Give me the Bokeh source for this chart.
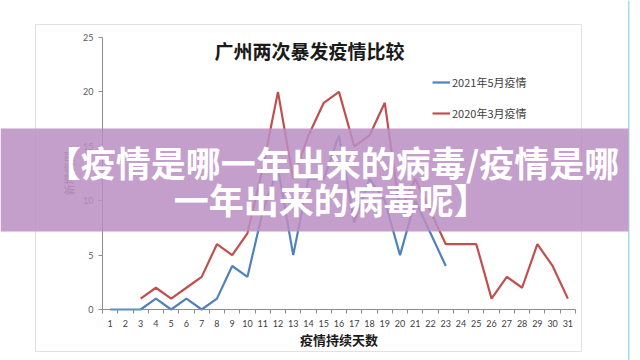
from bokeh.plotting import figure
from bokeh.models import FixedTicker, Label, BoxAnnotation, Legend, LegendItem, ColumnDataSource
from bokeh.embed import file_html
from bokeh.resources import INLINE

# ---- data ----
days = list(range(1, 32))
y_ticks = [0, 5, 10, 15, 20, 25]
may2021_days = list(range(1, 24))
may2021_cases = [0, 0, 0, 1, 0, 1, 0, 1, 4, 3, 9, 13, 5, 12, 12, 16, 8, 12, 10, 5, 10, 7, 4]
mar2020_days = list(range(3, 32))
mar2020_cases = [1, 2, 1, 2, 3, 6, 5, 7, 13, 20, 12, 16, 19, 20, 15, 16, 19, 9, 12, 9,
                 6, 6, 6, 1, 3, 2, 6, 4, 1]
series_names = ["2021年5月疫情", "2020年3月疫情"]
title_text = "广州两次暴发疫情比较"
x_title = "疫情持续天数"
y_title = "新增病例"
banner_lines = ["【疫情是哪一年出来的病毒/疫情是哪", "一年出来的病毒呢】"]

CJK = "Noto Sans CJK SC"
BLUE = "#4F81BD"
RED = "#C0504D"
W, H = 640, 360

# plot area of the chart inside the picture (pixels): x 102..575, y 37..309
px_per_day = (575 - 102) / 31.0
px_per_case = (309 - 37) / 25.0
x0 = 0.5 - 102 / px_per_day
x1 = 31.5 + (W - 575) / px_per_day
y1 = 25 + 37 / px_per_case
y0 = -(H - 309) / px_per_case

p = figure(width=W, height=H, x_range=(x0, x1), y_range=(y0, y1),
           output_backend="svg", toolbar_location=None,
           min_border=0, min_border_left=0, min_border_right=0,
           min_border_top=0, min_border_bottom=0)
p.outline_line_color = None
p.grid.visible = False
p.background_fill_color = "white"
p.border_fill_color = "white"

# x axis
xa = p.xaxis[0]
xa.fixed_location = 0
xa.bounds = (0.5, 31.5)
xa.ticker = FixedTicker(ticks=days, minor_ticks=[d + 0.5 for d in range(0, 32)])
xa.major_tick_line_color = None
xa.minor_tick_out = 4
xa.minor_tick_in = 0
xa.minor_tick_line_color = "#8c8c8c"
xa.axis_line_color = "#8c8c8c"
xa.major_label_text_font = "Lato"
xa.major_label_text_font_size = "9px"
xa.major_label_text_color = "#404040"
xa.major_label_standoff = 4
xa.axis_label = x_title
xa.axis_label_text_font = CJK
xa.axis_label_text_font_style = "bold"
xa.axis_label_text_font_size = "13px"
xa.axis_label_text_color = "#1a1a1a"
xa.axis_label_standoff = 0

# y axis
ya = p.yaxis[0]
ya.fixed_location = 0.5
ya.bounds = (0, 25)
ya.ticker = FixedTicker(ticks=y_ticks)
ya.major_tick_out = 4
ya.major_tick_in = 0
ya.minor_tick_line_color = None
ya.major_tick_line_color = "#8c8c8c"
ya.axis_line_color = "#8c8c8c"
ya.major_label_text_font = "Lato"
ya.major_label_text_font_size = "9px"
ya.major_label_text_color = "#595959"
ya.major_label_standoff = 5
ya.axis_label = y_title
ya.axis_label_text_font = CJK
ya.axis_label_text_font_style = "normal"
ya.axis_label_text_font_size = "11px"
ya.axis_label_text_color = "#595959"
ya.axis_label_standoff = 3

# outer chart border
p.add_layout(BoxAnnotation(left=35, right=581, top=24, bottom=351,
                           left_units="canvas", right_units="canvas",
                           top_units="canvas", bottom_units="canvas",
                           fill_alpha=0, line_color="#a0a0a0", line_width=1, level="underlay"))

src_a = ColumnDataSource(dict(x=may2021_days, y=may2021_cases))
src_b = ColumnDataSource(dict(x=mar2020_days, y=mar2020_cases))
ra = p.line("x", "y", source=src_a, line_color=BLUE, line_width=2.2)
rb = p.line("x", "y", source=src_b, line_color=RED, line_width=2.2)

legend = Legend(items=[LegendItem(label=series_names[0], renderers=[ra]),
                       LegendItem(label=series_names[1], renderers=[rb])],
                location=(432, 237), orientation="vertical",
                label_text_font=CJK, label_text_font_size="11px", label_text_color="#404040",
                glyph_width=18, glyph_height=20, label_height=20, spacing=11,
                label_standoff=2, padding=0, margin=0,
                border_line_color=None, background_fill_alpha=0)
p.add_layout(legend, "center")

# chart title (inside the plot area as in the original)
p.add_layout(Label(x=14.07, y=23.8, text=title_text, text_align="center", text_baseline="middle",
                   text_font=CJK, text_font_style="bold", text_font_size="19px", text_color="#1a1a1a"))

# right light-blue rule
p.add_layout(BoxAnnotation(left=627.5, right=629, top=0, bottom=H,
                           left_units="canvas", right_units="canvas",
                           top_units="canvas", bottom_units="canvas",
                           fill_color="#a9d9f2", fill_alpha=1, line_color=None))
# banner
p.add_layout(BoxAnnotation(left=0, right=628, top=128, bottom=231,
                           left_units="canvas", right_units="canvas",
                           top_units="canvas", bottom_units="canvas",
                           fill_color="#ba8fc3", fill_alpha=0.86, line_color=None))
p.add_layout(Label(x=15.57, y=13.6, text=banner_lines[0], text_align="center", text_baseline="middle",
                   text_font=CJK, text_font_style="bold", text_font_size="35px", text_color="white"))
p.add_layout(Label(x=15.5, y=10.2, text=banner_lines[1], text_align="center", text_baseline="middle",
                   text_font=CJK, text_font_style="bold", text_font_size="35px", text_color="white"))

open("out.html", "w").write(file_html(p, INLINE))
